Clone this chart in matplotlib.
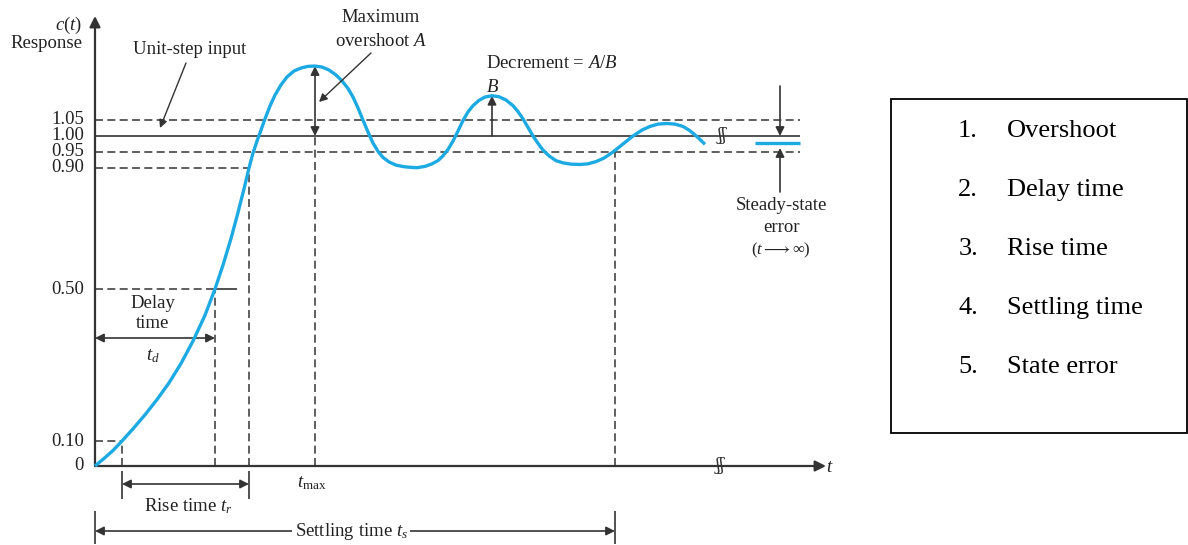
import numpy as np
import matplotlib
matplotlib.use("Agg")
import matplotlib.pyplot as plt
from matplotlib.transforms import blended_transform_factory
from matplotlib.patches import Rectangle

plt.rcParams['font.family'] = ['Liberation Serif', 'DejaVu Serif']
plt.rcParams['mathtext.fontset'] = 'custom'
plt.rcParams['mathtext.rm'] = 'Liberation Serif'
plt.rcParams['mathtext.it'] = 'Liberation Serif:italic'

# ---------------- data ----------------
curve_t = [0.00, 0.09, 0.18, 0.27, 0.38, 0.50, 0.62, 0.74, 0.86, 0.98, 1.10, 1.20,
           1.28, 1.36, 1.43, 1.49, 1.54, 1.58, 1.62, 1.66, 1.70, 1.75, 1.80, 1.86,
           1.92, 1.99, 2.06, 2.13, 2.20,
           2.27, 2.34, 2.41, 2.47, 2.53, 2.58, 2.63, 2.68, 2.73, 2.78, 2.83, 2.88,
           2.94, 3.01, 3.09, 3.16, 3.22,
           3.30, 3.37, 3.43, 3.48, 3.53, 3.58, 3.63, 3.68, 3.73, 3.78, 3.84, 3.90, 3.97,
           4.04, 4.11, 4.18, 4.23, 4.28, 4.33, 4.38, 4.43, 4.48, 4.54, 4.61, 4.68, 4.76, 4.85,
           4.93, 5.01, 5.09, 5.18, 5.28, 5.38, 5.47, 5.55, 5.63, 5.72, 5.80, 5.88, 5.94,
           5.99, 6.04, 6.10]
curve_c = [0.000, 0.030, 0.062, 0.100, 0.132, 0.169, 0.209, 0.253, 0.304, 0.363, 0.431, 0.500,
           0.579, 0.667, 0.753, 0.831, 0.900, 0.947, 0.984, 1.018, 1.052, 1.091, 1.124, 1.155,
           1.179, 1.197, 1.206, 1.211, 1.212,
           1.209, 1.200, 1.185, 1.167, 1.144, 1.118, 1.085, 1.048, 1.012, 0.978, 0.952, 0.933,
           0.919, 0.909, 0.904, 0.902, 0.901,
           0.905, 0.913, 0.923, 0.938, 0.958, 0.984, 1.015, 1.047, 1.073, 1.092, 1.108, 1.118, 1.122,
           1.119, 1.109, 1.092, 1.074, 1.052, 1.026, 1.000, 0.977, 0.956, 0.938, 0.923, 0.916, 0.912, 0.911,
           0.913, 0.920, 0.931, 0.950, 0.975, 1.000, 1.018, 1.029, 1.036, 1.038, 1.036, 1.029, 1.018,
           1.006, 0.992, 0.974]

tick_values = [0.0, 0.10, 0.50, 0.90, 0.95, 1.00, 1.05]
tick_labels = ['0', '0.10', '0.50', '0.90', '0.95', '1.00', '1.05']

t_10 = 0.27      # time at 10 %
t_d = 1.20       # delay time (50 %)
t_r = 1.54       # rise time end (90 %)
t_max = 2.20     # time of maximum
t_s = 5.20       # settling time
peak_A = 1.212
peak_B_t = 3.97
peak_B = 1.122
steady_value = 0.978

list_items = ['Overshoot', 'Delay time', 'Rise time', 'Settling time', 'State error']

# ---------------- schematic (non-uniform) response scale ----------------
RESP_KNOTS = np.array([-1.0, 0.0, 0.1, 0.5, 0.9, 1.0, 3.0])
DISP_KNOTS = np.array([-250.0, 0.0, 25.0, 177.0, 298.0, 330.0, 990.0])

def fwd(v):
    return np.interp(v, RESP_KNOTS, DISP_KNOTS)

def inv(d):
    return np.interp(d, DISP_KNOTS, RESP_KNOTS)

BLUE = '#1DAAE2'
DARK = '#333333'
DASH = (0, (4.8, 2.6))
FS = 13.5

fig = plt.figure(figsize=(11.88, 5.45), dpi=100)
ax = fig.add_axes([0, 0, 1, 1])
ax.set_yscale('function', functions=(fwd, inv))
ax.set_xlim(-0.95, 10.93)
ax.set_ylim(float(inv(-79)), float(inv(466)))
ax.axis('off')

ov = fig.add_axes([0, 0, 1, 1])
ov.set_xlim(0, 1188)
ov.set_ylim(545, 0)
ov.axis('off')

def px_t(px):
    return (px - 95) / 100.0

def py_c(py):
    return float(inv(466 - py))

# axes with arrows
ax.annotate('', xy=(0, py_c(16)), xytext=(0, 0),
            arrowprops=dict(arrowstyle='-|>', color=DARK, lw=1.6, mutation_scale=16,
                            shrinkA=0, shrinkB=0))
ax.annotate('', xy=(px_t(826), 0), xytext=(0, 0),
            arrowprops=dict(arrowstyle='-|>', color=DARK, lw=1.6, mutation_scale=16,
                            shrinkA=0, shrinkB=0))

# level lines
dkw = dict(color='#444444', lw=1.2, linestyle=DASH)
ax.hlines([1.05, 0.95], 0, px_t(800), **dkw)
ax.hlines(1.00, 0, px_t(800), color=DARK, lw=1.2)
ax.hlines(0.90, 0, t_r, **dkw)
ax.hlines(0.50, 0, t_d, **dkw)
ax.hlines(0.50, t_d, px_t(237), color=DARK, lw=1.2)
ax.hlines(0.10, 0, t_10, **dkw)

# vertical dashed markers
ax.vlines(t_10, 0, 0.10, **dkw)
ax.vlines(t_d, 0, 0.50, **dkw)
ax.vlines(t_r, 0, 0.90, **dkw)
ax.vlines(t_max, 0, 1.00, **dkw)
ax.vlines(t_s, 0, 0.95, **dkw)

# brackets under the time axis
ax.vlines([t_10, t_r], py_c(471), py_c(499), color=DARK, lw=1.2)
ax.vlines([0, t_s], py_c(511), py_c(544), color=DARK, lw=1.2)

# response curve
ax.plot(curve_t, curve_c, color=BLUE, lw=2.4, solid_joinstyle='round',
        solid_capstyle='butt', zorder=5)
ax.hlines(steady_value, px_t(755), px_t(800), color=BLUE, lw=2.4, zorder=5)

aw = dict(color=DARK, lw=1.2, mutation_scale=13, shrinkA=0, shrinkB=0)
def darrow(p0, p1, style='<|-|>'):
    ax.annotate('', xy=p1, xytext=p0, arrowprops=dict(arrowstyle=style, **aw))

darrow((t_10, py_c(484)), (t_r, py_c(484)))
darrow((0, py_c(531)), (t_s, py_c(531)))
darrow((0, py_c(338)), (t_d, py_c(338)))
darrow((t_max, 1.0), (t_max, peak_A))
darrow((peak_B_t, 1.0), (peak_B_t, peak_B), '-|>')
darrow((px_t(780), py_c(86)), (px_t(780), 1.0), '-|>')
darrow((px_t(780), py_c(192)), (px_t(780), py_c(148)), '-|>')

# pointer arrows
pw = dict(arrowstyle='-|>', color=DARK, lw=1.0, mutation_scale=12, shrinkA=0, shrinkB=0)
ov.annotate('', xy=(160, 128), xytext=(186, 63), arrowprops=pw)
ov.annotate('', xy=(319, 102), xytext=(371, 53), arrowprops=pw)

# tick labels
bt = blended_transform_factory(ov.transData, ax.transData)
for v, lab in zip(tick_values, tick_labels):
    ax.text(84, v, lab, transform=bt, ha='right', va='center', fontsize=FS, color='#222222')

TXT = dict(color='#222222', fontsize=FS)
ov.text(82, 25, r'$c(t)$', ha='right', va='center', **TXT)
ov.text(82, 44, 'Response', ha='right', va='center', **TXT)
ov.text(190, 50, 'Unit-step input', ha='center', va='center', **TXT)
ov.text(381, 18, 'Maximum', ha='center', va='center', **TXT)
ov.text(381, 41, r'overshoot $A$', ha='center', va='center', **TXT)
ov.text(552, 63, r'Decrement = $A/B$', ha='center', va='center', **TXT)
ov.text(493, 87, r'$B$', ha='center', va='center', **TXT)
ov.text(153, 303, 'Delay', ha='center', va='center', **TXT)
ov.text(153, 324, 'time', ha='center', va='center', **TXT)
ov.text(153, 356, r'$t_d$', ha='center', va='center', **TXT)
ov.text(188, 506, r'Rise time $t_r$', ha='center', va='center', **TXT)
ov.text(312, 483, r'$t_{\mathrm{max}}$', ha='center', va='center', **TXT)
ov.text(351, 532, r'Settling time $t_s$', ha='center', va='center',
        bbox=dict(facecolor='white', edgecolor='none', pad=2), zorder=6, **TXT)
ov.text(830, 467, r'$t$', ha='center', va='center', **TXT)
ov.text(781, 205, 'Steady-state', ha='center', va='center', **TXT)
ov.text(781, 227, 'error', ha='center', va='center', **TXT)
ov.text(781, 250, r'$(t \longrightarrow \infty)$', ha='center', va='center',
        color='#222222', fontsize=12)

# axis breaks
ov.text(722, 136, 'ʃʃ', ha='center', va='center', fontsize=12, color=DARK,
        family=['DejaVu Serif'])
ov.text(720, 466, 'ʃʃ', ha='center', va='center', fontsize=12, color=DARK,
        family=['DejaVu Serif'])

# list box
ov.add_patch(Rectangle((891, 99), 296, 334, fill=False, edgecolor='black', lw=1.3))
for i, item in enumerate(list_items):
    y = 131 + i * 59
    ov.text(978, y, f'{i + 1}.', ha='right', va='center', fontsize=19, color='black')
    ov.text(1007, y, item, ha='left', va='center', fontsize=19, color='black')

fig.savefig('out.png', dpi=100)
